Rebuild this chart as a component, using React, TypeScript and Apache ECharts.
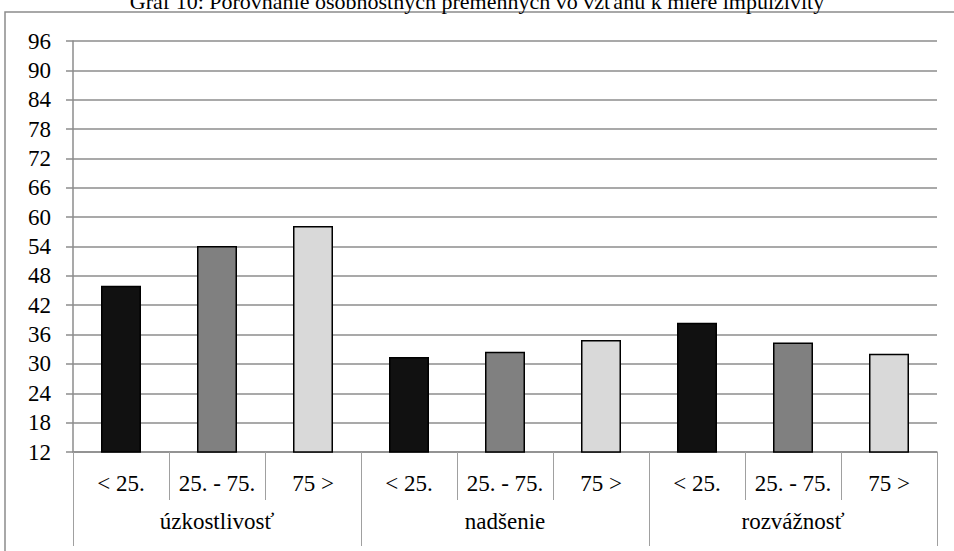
import React, { useEffect, useRef } from "react";
import * as echarts from "echarts";

const titleText = "Graf 10: Porovnanie osobnostných premenných vo vzťahu k miere impulzivity";
const groups = ["úzkostlivosť", "nadšenie", "rozvážnosť"];
const subLabels = ["< 25.", "25. - 75.", "75 >"];
const lowValues = [46.0, 31.4, 38.4];
const midValues = [54.1, 32.5, 34.4];
const highValues = [58.2, 34.9, 32.1];
const barColors = ["#111111", "#808080", "#d9d9d9"];
const yMin = 12;
const yMax = 96;
const yStep = 6;

const FONT = "Liberation Serif";
const FS = 23;
const GRID_GRAY = "#8c8c8c";

export default function App() {
  const ref = useRef<HTMLDivElement>(null);
  useEffect(() => {
    document.body.style.margin = "0";
    if (!ref.current) return;
    const chart = echarts.init(ref.current, null, { renderer: "svg" });
    const seriesBySub = [lowValues, midValues, highValues];
    const categories: string[] = [];
    const data: any[] = [];
    groups.forEach((g, gi) => {
      subLabels.forEach((s, si) => {
        categories.push(s);
        data.push({
          value: seriesBySub[si][gi],
          itemStyle: { color: barColors[si] },
        });
      });
    });
    chart.setOption({
      animation: false,
      backgroundColor: "#ffffff",
      textStyle: { fontFamily: FONT },
      graphic: [
        {
          type: "rect",
          shape: { x: 5, y: 12, width: 1000, height: 600 },
          style: { fill: "none", stroke: "#8c8c8c", lineWidth: 1.5 },
          silent: true,
          z: -1,
        },
        {
          type: "text",
          x: 477,
          y: 1,
          style: {
            text: titleText,
            fontSize: 22,
            fontFamily: FONT,
            fill: "#000",
            textAlign: "center",
            textVerticalAlign: "middle",
          },
        },
      ],
      grid: { left: 73, right: 17, top: 41, bottom: 99, containLabel: false },
      xAxis: [
        {
          type: "category",
          data: categories,
          position: "bottom",
          boundaryGap: true,
          axisLine: { show: true, lineStyle: { color: GRID_GRAY, width: 1.5 } },
          axisTick: {
            show: true,
            interval: 0,
            length: 48,
            lineStyle: { color: "#a0a0a0", width: 1 },
          },
          axisLabel: {
            interval: 0,
            margin: 20,
            color: "#000",
            fontFamily: FONT,
            fontSize: FS,
          },
          splitLine: { show: false },
        },
        {
          type: "category",
          data: groups,
          position: "bottom",
          boundaryGap: true,
          axisLine: { show: false },
          axisTick: {
            show: true,
            interval: 0,
            length: 94,
            lineStyle: { color: "#a0a0a0", width: 1 },
          },
          axisLabel: {
            interval: 0,
            margin: 58,
            color: "#000",
            fontFamily: FONT,
            fontSize: FS,
          },
          splitLine: { show: false },
        },
      ],
      yAxis: {
        type: "value",
        min: yMin,
        max: yMax,
        interval: yStep,
        axisLine: { show: true, lineStyle: { color: GRID_GRAY, width: 1.5 } },
        axisTick: { show: true, length: 7, lineStyle: { color: GRID_GRAY, width: 1.5 } },
        axisLabel: { margin: 22, color: "#000", fontFamily: FONT, fontSize: FS },
        splitLine: { show: true, lineStyle: { color: GRID_GRAY, width: 1.5 } },
      },
      series: [
        {
          type: "bar",
          xAxisIndex: 0,
          data,
          barWidth: 40,
          itemStyle: { borderColor: "#000", borderWidth: 1.5 },
        },
      ],
    });
    return () => chart.dispose();
  }, []);
  return <div ref={ref} style={{ width: 954, height: 551 }} />;
}
